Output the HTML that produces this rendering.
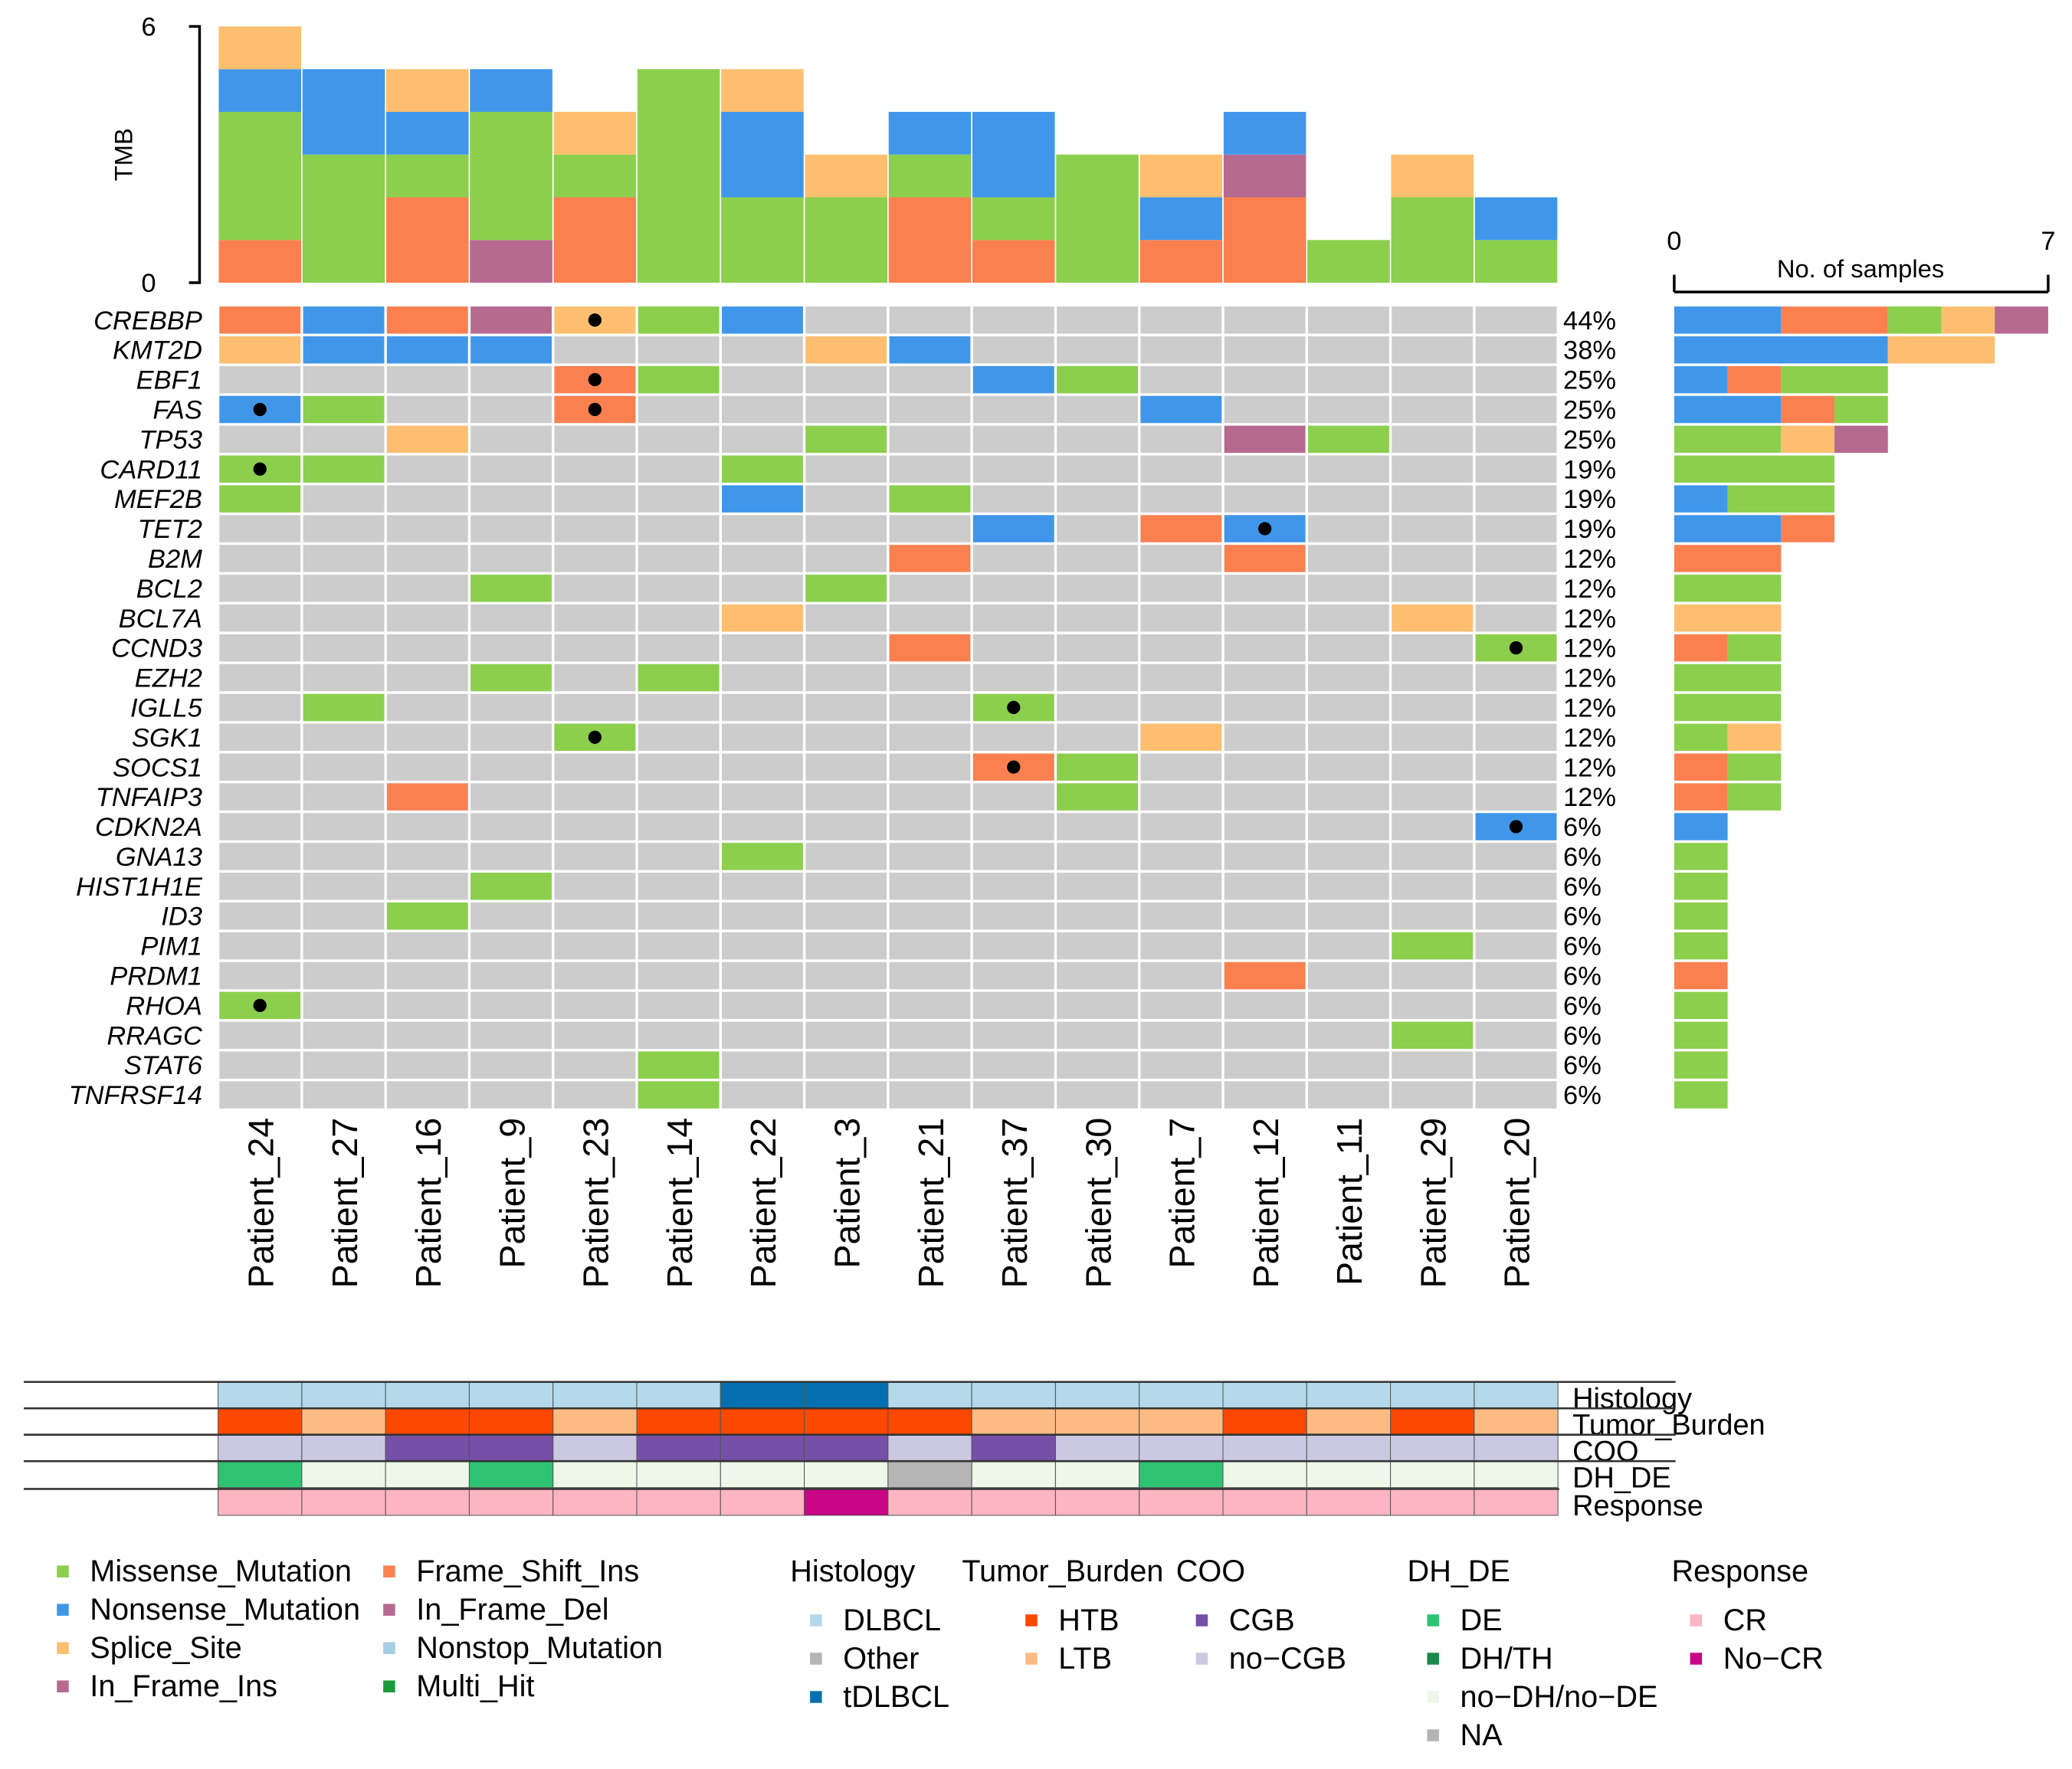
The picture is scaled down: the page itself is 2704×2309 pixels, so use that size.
<!DOCTYPE html>
<html><head><meta charset="utf-8"><style>
html,body{margin:0;padding:0;background:#fff}
svg{display:block;font-family:"Liberation Sans Narrow","Liberation Sans",sans-serif}
</style></head><body>
<svg id="chart" width="2704" height="2309" viewBox="0 0 1568 1339" xmlns="http://www.w3.org/2000/svg">
<g id="tmb"></g>
<g id="grid"></g>
<g id="side"></g>
<g id="annot"></g>
<g id="legend"></g>
</svg>
<script>
const patients=["Patient_24","Patient_27","Patient_16","Patient_9","Patient_23","Patient_14","Patient_22","Patient_3","Patient_21","Patient_37","Patient_30","Patient_7","Patient_12","Patient_11","Patient_29","Patient_20"];
const genes=["CREBBP","KMT2D","EBF1","FAS","TP53","CARD11","MEF2B","TET2","B2M","BCL2","BCL7A","CCND3","EZH2","IGLL5","SGK1","SOCS1","TNFAIP3","CDKN2A","GNA13","HIST1H1E","ID3","PIM1","PRDM1","RHOA","RRAGC","STAT6","TNFRSF14"];
const pcts=["44%","38%","25%","25%","25%","19%","19%","19%","12%","12%","12%","12%","12%","12%","12%","12%","12%","6%","6%","6%","6%","6%","6%","6%","6%","6%","6%"];
// mutations: [gene, patient, type, multi-dot]
const muts=[
["CREBBP","Patient_24","FS",0],["CREBBP","Patient_27","NS",0],["CREBBP","Patient_16","FS",0],["CREBBP","Patient_9","IFI",0],["CREBBP","Patient_23","SP",1],["CREBBP","Patient_14","MS",0],["CREBBP","Patient_22","NS",0],
["KMT2D","Patient_24","SP",0],["KMT2D","Patient_27","NS",0],["KMT2D","Patient_16","NS",0],["KMT2D","Patient_9","NS",0],["KMT2D","Patient_3","SP",0],["KMT2D","Patient_21","NS",0],
["EBF1","Patient_23","FS",1],["EBF1","Patient_14","MS",0],["EBF1","Patient_37","NS",0],["EBF1","Patient_30","MS",0],
["FAS","Patient_24","NS",1],["FAS","Patient_27","MS",0],["FAS","Patient_23","FS",1],["FAS","Patient_7","NS",0],
["TP53","Patient_16","SP",0],["TP53","Patient_3","MS",0],["TP53","Patient_12","IFI",0],["TP53","Patient_11","MS",0],
["CARD11","Patient_24","MS",1],["CARD11","Patient_27","MS",0],["CARD11","Patient_22","MS",0],
["MEF2B","Patient_24","MS",0],["MEF2B","Patient_22","NS",0],["MEF2B","Patient_21","MS",0],
["TET2","Patient_37","NS",0],["TET2","Patient_7","FS",0],["TET2","Patient_12","NS",1],
["B2M","Patient_21","FS",0],["B2M","Patient_12","FS",0],
["BCL2","Patient_9","MS",0],["BCL2","Patient_3","MS",0],
["BCL7A","Patient_22","SP",0],["BCL7A","Patient_29","SP",0],
["CCND3","Patient_21","FS",0],["CCND3","Patient_20","MS",1],
["EZH2","Patient_9","MS",0],["EZH2","Patient_14","MS",0],
["IGLL5","Patient_27","MS",0],["IGLL5","Patient_37","MS",1],
["SGK1","Patient_23","MS",1],["SGK1","Patient_7","SP",0],
["SOCS1","Patient_37","FS",1],["SOCS1","Patient_30","MS",0],
["TNFAIP3","Patient_16","FS",0],["TNFAIP3","Patient_30","MS",0],
["CDKN2A","Patient_20","NS",1],["GNA13","Patient_22","MS",0],["HIST1H1E","Patient_9","MS",0],["ID3","Patient_16","MS",0],
["PIM1","Patient_29","MS",0],["PRDM1","Patient_12","FS",0],["RHOA","Patient_24","MS",1],["RRAGC","Patient_29","MS",0],
["STAT6","Patient_14","MS",0],["TNFRSF14","Patient_14","MS",0]];
// TMB per patient, stacked bottom->top: FS, IFI, MS, NS, SP
const tmbFS=[1,0,2,0,2,0,0,0,2,1,0,1,2,0,0,0];
const tmbIFI=[0,0,0,1,0,0,0,0,0,0,0,0,1,0,0,0];
const tmbMS=[3,3,1,3,1,5,2,2,1,1,3,0,0,1,2,1];
const tmbNS=[1,2,1,1,0,0,2,0,1,2,0,1,1,0,0,1];
const tmbSP=[1,0,1,0,1,0,1,1,0,0,0,1,0,0,1,0];
const histology=["D","D","D","D","D","D","T","T","D","D","D","D","D","D","D","D"];
const burden=["H","L","H","H","L","H","H","H","H","L","L","L","H","L","H","L"];
const coo=["N","N","C","C","N","C","C","C","N","C","N","N","N","N","N","N"];
const dhde=["DE","no","no","DE","no","no","no","no","NA","no","no","DE","no","no","no","no"];
const response=["CR","CR","CR","CR","CR","CR","CR","NCR","CR","CR","CR","CR","CR","CR","CR","CR"];

const COL={MS:"#8ccf4d",NS:"#4097ea",SP:"#fdbf6f",FS:"#fb8050",IFI:"#b66a90"};
const NS_="http://www.w3.org/2000/svg";
function mk(p,tag,a){const e=document.createElementNS(NS_,tag);for(const k in a)e.setAttribute(k,a[k]);p.appendChild(e);return e;}
const gx0=165,cw=(1179-165)/16,gy0=231,rh=(840-231)/27;
const X=i=>gx0+i*cw, Y=j=>gy0+j*rh;
// TMB
const tmb=document.getElementById('tmb');
const ty=v=>214-v*(194/6);
let ax=mk(tmb,'path',{d:"M143,20H151V214H143",stroke:"#000","stroke-width":2,fill:"none"});

[[0,"0"],[6,"6"]].forEach(([v,l])=>{const t=mk(tmb,'text',{x:118,y:ty(v)+7,"font-size":20,"text-anchor":"end"});t.textContent=l;});
let tt=mk(tmb,'text',{x:100,y:117,"font-size":19,"text-anchor":"middle",transform:"rotate(-90 100 117)"});tt.textContent="TMB";

patients.forEach((p,i)=>{let b=0;[["FS",tmbFS],["IFI",tmbIFI],["MS",tmbMS],["NS",tmbNS],["SP",tmbSP]].forEach(([k,arr])=>{const v=arr[i];if(!v)return;const r=mk(tmb,'rect',{x:X(i)+0.5,y:ty(b+v),width:cw-1,height:v*194/6,fill:COL[k]});b+=v;});});
// grid
const grid=document.getElementById('grid');
genes.forEach((g,j)=>{patients.forEach((p,i)=>{const r=mk(grid,'rect',{x:X(i)+1,y:Y(j)+1,width:cw-2,height:rh-2,fill:"#cccccc"});});
 const t=mk(grid,'text',{x:153,y:Y(j)+rh/2+7,"font-size":20,"font-style":"italic","text-anchor":"end"});t.textContent=g;
 const q=mk(grid,'text',{x:1183,y:Y(j)+rh/2+7,"font-size":20});q.textContent=pcts[j];});
muts.forEach(([g,p,k,d])=>{const i=patients.indexOf(p),j=genes.indexOf(g);const r=mk(grid,'rect',{x:X(i)+1,y:Y(j)+1,width:cw-2,height:rh-2,fill:COL[k]});
 if(d){const c=mk(grid,'circle',{cx:X(i)+cw/2,cy:Y(j)+rh/2,r:5,fill:"#000"});}});
patients.forEach((p,i)=>{const cx=X(i)+cw/2+10,ty0=846;const t=mk(grid,'text',{x:cx,y:ty0,"font-size":27,"text-anchor":"end",transform:`rotate(-90 ${cx} ${ty0})`});t.textContent=p;});
// side bars
const side=document.getElementById('side');
const sx=v=>1267+v*(283/7);
let sa=mk(side,'path',{d:"M1267,208V221M1267,221H1550M1550,221V208",stroke:"#000","stroke-width":2,fill:"none"});
[[0,"0",1267],[7,"7",1550]].forEach(([v,l,x])=>{const t=mk(side,'text',{x:x,y:189,"font-size":20,"text-anchor":"middle"});t.textContent=l;});
let st=mk(side,'text',{x:1408,y:210,"font-size":19,"text-anchor":"middle"});st.textContent="No. of samples";
genes.forEach((g,j)=>{let b=0;["NS","FS","MS","SP","IFI"].forEach(k=>{const n=muts.filter(m=>m[0]===g&&m[2]===k).length;if(!n)return;const r=mk(side,'rect',{x:sx(b),y:Y(j)+1,width:sx(n)-sx(0),height:rh-2,fill:COL[k]});b+=n;});});
// annotations
const an=document.getElementById('annot');
const tracks=[["Histology",histology,{D:"#b3d9ea",T:"#0570b0"},1046],["Tumor_Burden",burden,{H:"#fc4800",L:"#fdbb84"},1066],["COO",coo,{C:"#754fa8",N:"#cbc9e2"},1086],["DH_DE",dhde,{DE:"#2dc372",no:"#edf8e9",NA:"#b5b5b5"},1106],["Response",response,{CR:"#fcb5c1",NCR:"#c90685"},1127]];
tracks.forEach(([name,arr,cols,y],ti)=>{const h=20;
 arr.forEach((v,i)=>{const r=mk(an,'rect',{x:X(i),y:y,width:cw,height:h,fill:cols[v],stroke:"#555","stroke-width":0.6});});
 const l=mk(an,'line',{x1:18,x2:ti<4?1268:1180,y1:y,y2:y,stroke:"#333","stroke-width":1.5});
 const t=mk(an,'text',{x:1190,y:y+20,"font-size":22});t.textContent=name;});
// legend
const lg=document.getElementById('legend');
function entry(x,y,col,label,sz){if(col){const r=mk(lg,'rect',{x:x,y:y-12,width:sz||9,height:sz||9,fill:col});}
 const t=mk(lg,'text',{x:col?x+25:x,y:y,"font-size":23});t.textContent=label;}
entry(43,1197,COL.MS,"Missense_Mutation");entry(43,1226,COL.NS,"Nonsense_Mutation");entry(43,1255,COL.SP,"Splice_Site");entry(43,1284,COL.IFI,"In_Frame_Ins");
entry(290,1197,COL.FS,"Frame_Shift_Ins");entry(290,1226,"#b66a90","In_Frame_Del");entry(290,1255,"#a6cee3","Nonstop_Mutation");entry(290,1284,"#1a9a3a","Multi_Hit");
entry(598,1197,null,"Histology");entry(728,1197,null,"Tumor_Burden");entry(890,1197,null,"COO");entry(1065,1197,null,"DH_DE");entry(1265,1197,null,"Response");
entry(613,1234,"#b3d9ea","DLBCL");entry(613,1263,"#b5b5b5","Other");entry(613,1292,"#0570b0","tDLBCL");
entry(776,1234,"#fc4800","HTB");entry(776,1263,"#fdbb84","LTB");
entry(905,1234,"#754fa8","CGB");entry(905,1263,"#cbc9e2","no−CGB");
entry(1080,1234,"#2dc372","DE");entry(1080,1263,"#1a8a48","DH/TH");entry(1080,1292,"#edf8e9","no−DH/no−DE");entry(1080,1321,"#b5b5b5","NA");
entry(1279,1234,"#fcb5c1","CR");entry(1279,1263,"#c90685","No−CR");
</script>
</body></html>
